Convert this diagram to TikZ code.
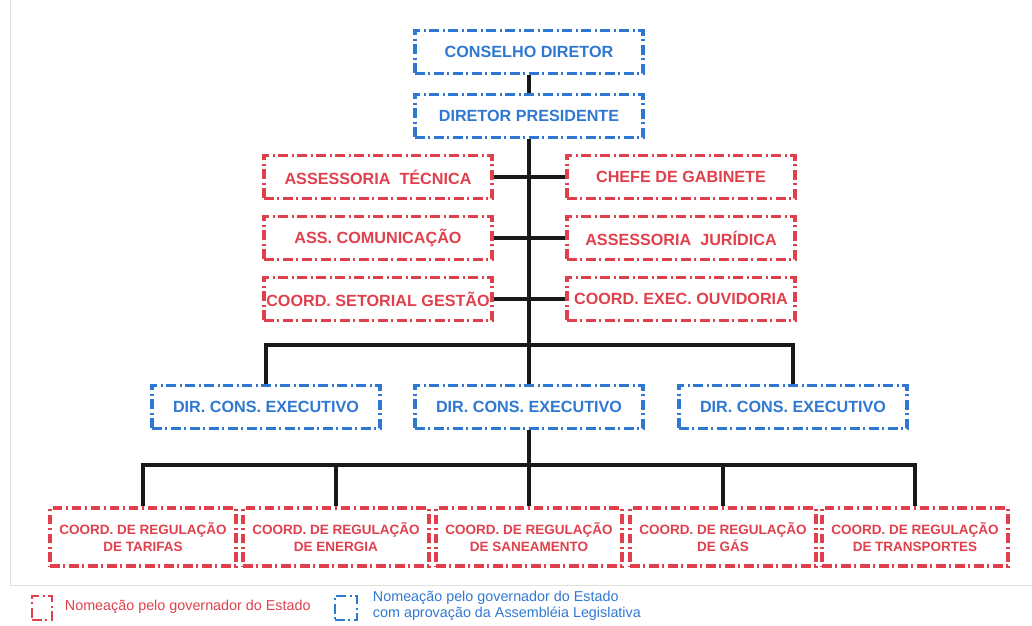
\documentclass[tikz,border=0pt]{standalone}
\usepackage{fontspec}
\setmainfont{Liberation Sans}
\usepackage{xcolor}
\usetikzlibrary{positioning}
\definecolor{orgblue}{HTML}{2F78D2}
\definecolor{orgred}{HTML}{E0404C}
\begin{document}
\begin{tikzpicture}[x=0.025cm, y=-0.025cm]
    \tikzset{box/.style={draw, line width=2.2pt, rectangle, inner sep=0pt,
                         dash pattern=on 7pt off 2.5pt on 1.5pt off 2.5pt,
                         minimum width=5.7cm, minimum height=1.07cm,
                         font=\fontsize{11.5}{13}\selectfont\bfseries},
             gov/.style={box, draw=orgblue, text=orgblue},
             est/.style={box, draw=orgred, text=orgred},
             coord/.style={est, minimum width=4.65cm, minimum height=1.45cm,
                           align=center, font=\fontsize{9.6}{11.5}\selectfont\bfseries},
             link/.style={line width=2.4pt, black!90}}
    \useasboundingbox (0,0) rectangle (1032,625);
    \draw[black!12, line width=0.6pt] (10,0) -- (10,585) -- (1032,585);
    % top of the chart
    \node[gov] (cd) at (529,52) {CONSELHO DIRETOR};
    \node[gov] (dp) at (529,116) {DIRETOR PRESIDENTE};
    % staff units
    \node[est] (at) at (378,177) {ASSESSORIA\ \ TÉCNICA};
    \node[est] (cg) at (681,177) {CHEFE DE GABINETE};
    \node[est] (ac) at (378,238) {ASS. COMUNICAÇÃO};
    \node[est] (aj) at (681,238) {ASSESSORIA\ \ JURÍDICA};
    \node[est] (cs) at (378,299) {COORD. SETORIAL GESTÃO};
    \node[est] (co) at (681,299) {COORD. EXEC. OUVIDORIA};
    % directors
    \node[gov] (dl) at (266,407) {DIR. CONS. EXECUTIVO};
    \node[gov] (dm) at (529,407) {DIR. CONS. EXECUTIVO};
    \node[gov] (dr) at (793,407) {DIR. CONS. EXECUTIVO};
    % coordinations
    \node[coord] (c1) at (143,537) {COORD. DE REGULAÇÃO\\DE TARIFAS};
    \node[coord] (c2) at (336,537) {COORD. DE REGULAÇÃO\\DE ENERGIA};
    \node[coord] (c3) at (529,537) {COORD. DE REGULAÇÃO\\DE SANEAMENTO};
    \node[coord] (c4) at (723,537) {COORD. DE REGULAÇÃO\\DE GÁS};
    \node[coord] (c5) at (915,537) {COORD. DE REGULAÇÃO\\DE TRANSPORTES};
    \coordinate (bar1) at (529,345);
    \coordinate (bar2) at (529,465);
    % connectors
    \draw[link] (cd.south) -- (dp.north);
    \draw[link] (dp.south) -- (dm.north);
    \draw[link] (at.east) -- (cg.west);
    \draw[link] (ac.east) -- (aj.west);
    \draw[link] (cs.east) -- (co.west);
    \draw[link] (dl.north) |- (bar1) -| (dr.north);
    \draw[link] (dm.south) -- (c3.north);
    \draw[link] (c1.north) |- (bar2) -| (c5.north);
    \draw[link] (c2.north) |- (bar2) -| (c4.north);
    % legend
    \node[est, minimum width=0.5cm, minimum height=0.6cm, line width=1.8pt] (lr) at (42,608) {};
    \node[anchor=west, text=orgred, font=\fontsize{10.2}{11}\selectfont] (tr) at (60,607)
        {Nomeação pelo governador do Estado};
    \node[gov, minimum width=0.55cm, minimum height=0.6cm, line width=1.8pt] (lb) at (346,608) {};
    \node[anchor=west, text=orgblue, align=left, font=\fontsize{10.2}{11.2}\selectfont] (tb) at (368,606)
        {Nomeação pelo governador do Estado\\com aprovação da Assembléia Legislativa};
\end{tikzpicture}
\end{document}
